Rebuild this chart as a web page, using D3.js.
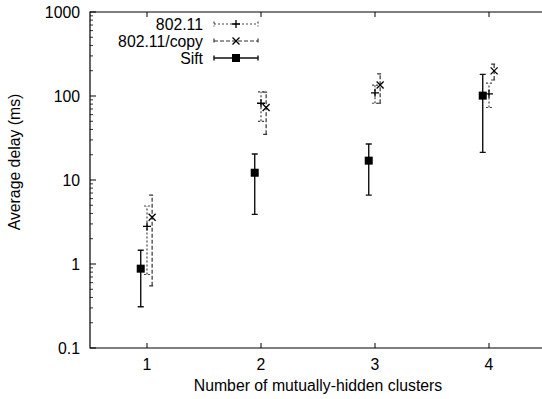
<!DOCTYPE html>
<html>
<head>
<meta charset="utf-8">
<script src="https://cdn.jsdelivr.net/npm/d3@7"></script>
<style>
  body { margin: 0; background: #fff; }
  text { font-family: "Liberation Sans", Arial, Helvetica, sans-serif; font-size: 15.8px; fill: #000; }
</style>
</head>
<body>
<div id="chart"></div>
<script>
// clusters on the x axis
var clusters = [1, 2, 3, 4];

// mean, low and high of each error bar
var wifiMean = [2.8, 82, 109, 106];
var wifiLow  = [0.75, 50, 82, 73];
var wifiHigh = [4.9, 112, 135, 142];

var copyMean = [3.6, 73, 135, 199];
var copyLow  = [0.55, 35, 82, 155];
var copyHigh = [6.6, 111, 183, 240];

var siftMean = [0.88, 12.2, 17, 101];
var siftLow  = [0.31, 3.9, 6.6, 21.3];
var siftHigh = [1.46, 20.4, 26.8, 181];

var yTicks = [0.1, 1, 10, 100, 1000];

function drawChart()
{
    var width = 542, height = 399;
    var plotLeft = 90, plotTop = 12, plotBottom = 348;

    var svg = d3.select("#chart")
            .append("svg")
            .attr("width", width)
            .attr("height", height);

    var x = d3.scaleLinear().domain([0.5, 4.5]).range([plotLeft, plotLeft + 456]);
    var y = d3.scaleLog().domain([0.1, 1000]).range([plotBottom, plotTop]);

    // frame (no right side, it runs off the page)
    svg.append("path")
        .attr("d", "M" + width + "," + plotTop + "H" + plotLeft + "V" + plotBottom + "H" + width)
        .attr("fill", "none").attr("stroke", "#000").attr("stroke-width", 1.2);

    // x ticks, bottom and top
    clusters.forEach(function (c) {
        svg.append("line").attr("x1", x(c)).attr("x2", x(c))
            .attr("y1", plotBottom).attr("y2", plotBottom - 5).attr("stroke", "#000");
        svg.append("line").attr("x1", x(c)).attr("x2", x(c))
            .attr("y1", plotTop).attr("y2", plotTop + 5).attr("stroke", "#000");
        svg.append("text").attr("x", x(c)).attr("y", 370)
            .attr("text-anchor", "middle").text(c);
    });

    // y ticks, majors and log minors
    var minors = [];
    for (var d = 0.1; d < 1000; d *= 10) {
        for (var m = 2; m < 10; m++) minors.push(d * m);
    }
    minors.forEach(function (v) {
        svg.append("line").attr("x1", plotLeft).attr("x2", plotLeft + 3)
            .attr("y1", y(v)).attr("y2", y(v)).attr("stroke", "#000").attr("stroke-width", 0.8);
    });
    yTicks.forEach(function (v) {
        svg.append("line").attr("x1", plotLeft).attr("x2", plotLeft + 6)
            .attr("y1", y(v)).attr("y2", y(v)).attr("stroke", "#000");
        svg.append("text").attr("x", 80).attr("y", y(v) + 5.5)
            .attr("text-anchor", "end").text(v);
    });

    svg.append("text").attr("x", 318).attr("y", 391)
        .attr("text-anchor", "middle").text("Number of mutually-hidden clusters");
    svg.append("text")
        .attr("transform", "translate(20,162) rotate(-90)")
        .attr("text-anchor", "middle").text("Average delay (ms)");

    var series = [
        {name: "802.11", mean: wifiMean, low: wifiLow, high: wifiHigh, dx: 0, dash: "2,2", color: "#444", mark: "plus"},
        {name: "802.11/copy", mean: copyMean, low: copyLow, high: copyHigh, dx: 0.045, dash: "4,2", color: "#333", mark: "cross"},
        {name: "Sift", mean: siftMean, low: siftLow, high: siftHigh, dx: -0.055, dash: null, color: "#111", mark: "square"}
    ];

    function marker(g, kind, cx, cy) {
        if (kind === "square") {
            g.append("rect").attr("x", cx - 4).attr("y", cy - 4)
                .attr("width", 8).attr("height", 8).attr("fill", "#000");
        } else if (kind === "plus") {
            g.append("path").attr("d", "M" + (cx - 4) + "," + cy + "h8M" + cx + "," + (cy - 4) + "v8")
                .attr("stroke", "#000").attr("stroke-width", 1.3);
        } else {
            g.append("path").attr("d", "M" + (cx - 3.5) + "," + (cy - 3.5) + "l7,7M" + (cx - 3.5) + "," + (cy + 3.5) + "l7,-7")
                .attr("stroke", "#000").attr("stroke-width", 1.3);
        }
    }

    series.forEach(function (s, si) {
        var g = svg.append("g");
        clusters.forEach(function (c, i) {
            var cx = x(c + s.dx);
            var bar = g.append("path")
                .attr("d", "M" + cx + "," + y(s.low[i]) + "V" + y(s.high[i]) +
                      "M" + (cx - 3) + "," + y(s.low[i]) + "h6" +
                      "M" + (cx - 3) + "," + y(s.high[i]) + "h6")
                .attr("fill", "none").attr("stroke", s.color).attr("stroke-width", s.dash ? 1.2 : 1.4);
            if (s.dash) bar.attr("stroke-dasharray", s.dash);
            marker(g, s.mark, cx, y(s.mean[i]));
        });

        // legend row
        var ly = 24 + si * 17;
        svg.append("text").attr("x", 203).attr("y", ly + 5.5)
            .attr("text-anchor", "end").text(s.name);
        var key = svg.append("path")
            .attr("d", "M214," + ly + "H258M214," + (ly - 2.5) + "v5M258," + (ly - 2.5) + "v5")
            .attr("fill", "none").attr("stroke", s.color).attr("stroke-width", s.dash ? 1.2 : 1.4);
        if (s.dash) key.attr("stroke-dasharray", s.dash);
        marker(svg, s.mark, 236, ly);
    });
}

drawChart();
</script>
</body>
</html>
